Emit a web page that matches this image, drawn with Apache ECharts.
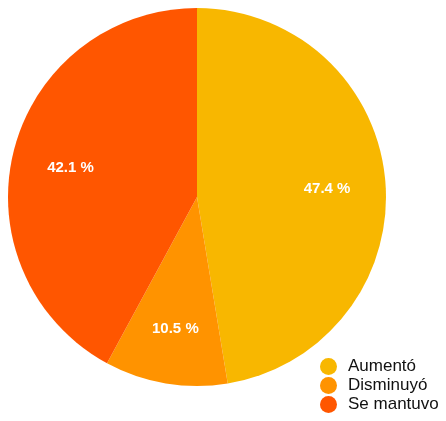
<!DOCTYPE html>
<html>
<head>
<meta charset="utf-8">
<style>
  html, body { margin: 0; padding: 0; background: #fff; }
  #chart { width: 446px; height: 421px; }
</style>
<script src="https://cdn.jsdelivr.net/npm/echarts@6/dist/echarts.min.js"></script>
</head>
<body>
<div id="chart"></div>
<script>
// Share of responses per category
const categories = ['Aumentó', 'Disminuyó', 'Se mantuvo'];
const shares = [47.4, 10.5, 42.1];
const colors = ['#F8B700', '#FF9300', '#FF5600'];

const chart = echarts.init(document.getElementById('chart'));
const pieData = categories.map((name, i) => ({ name, value: shares[i] }));

chart.setOption({
  animation: false,
  color: colors,
  legend: {
    orient: 'vertical',
    left: 320,
    top: 358,
    padding: 0,
    height: 63,
    icon: 'circle',
    itemWidth: 17,
    itemHeight: 17,
    itemGap: 2,
    textStyle: { fontSize: 17, color: '#111', fontFamily: 'Liberation Sans, Arial, sans-serif', padding: [0, 0, 0, 6] },
    data: categories
  },
  series: [
    {
      type: 'pie',
      center: [197, 197],
      radius: [0, 189],
      startAngle: 90,
      clockwise: true,
      silent: true,
      label: { show: false },
      labelLine: { show: false },
      data: pieData
    },
    {
      // transparent ring used only to place the percentage labels
      type: 'pie',
      center: [197, 197],
      radius: [66, 189],
      startAngle: 90,
      clockwise: true,
      silent: true,
      itemStyle: { color: 'rgba(0,0,0,0)' },
      label: {
        show: true,
        position: 'inside',
        offset: [0, 3],
        color: '#fff',
        fontSize: 15,
        fontWeight: 'bold',
        fontFamily: 'Liberation Sans, Arial, sans-serif',
        formatter: p => p.value.toFixed(1) + ' %'
      },
      labelLine: { show: false },
      data: pieData
    }
  ]
});
</script>
</body>
</html>
